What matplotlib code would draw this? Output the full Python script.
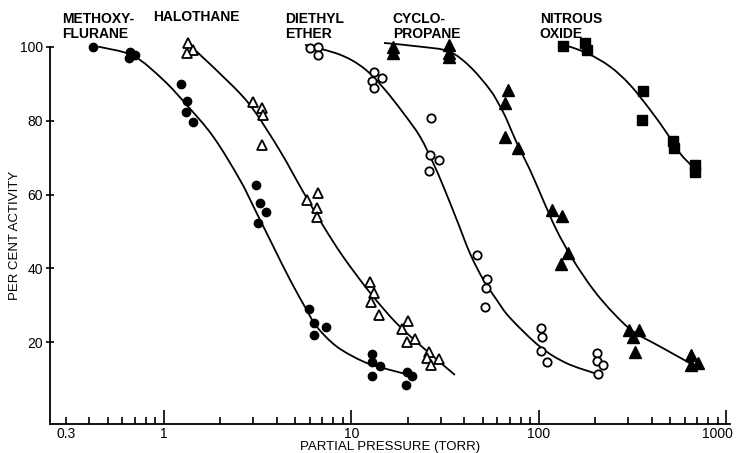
import matplotlib
matplotlib.use('Agg')
import numpy as np
import matplotlib.pyplot as plt
import matplotlib.transforms as mtransforms
from matplotlib.path import Path
from matplotlib.patches import PathPatch
from matplotlib.ticker import FixedLocator, FixedFormatter

plt.rcParams['font.family'] = ['Liberation Sans', 'DejaVu Sans']

# ---------------- data ----------------
methoxy_p = [0.42, 0.66, 0.70, 0.65, 1.23, 1.32, 1.31, 1.43, 3.08, 3.25, 3.49, 3.18,
             5.96, 6.31, 7.31, 6.31, 12.8, 12.8, 14.2, 12.8, 19.7, 20.9, 19.5]
methoxy_a = [100, 98.7, 97.9, 97.1, 90.0, 85.4, 82.5, 79.6, 62.6, 57.7, 55.4, 52.3,
             29.0, 25.1, 24.1, 22.0, 16.7, 14.7, 13.4, 10.8, 12.0, 10.8, 8.4]
methoxy_curve_p = [0.446, 0.686, 0.99, 1.32, 1.83, 2.54, 3.12, 3.83, 4.70, 5.77, 6.52,
                   8.34, 11.6, 15.4, 20.5]
methoxy_curve_a = [100.1, 97.6, 91.1, 84.3, 75.7, 64.0, 55.0, 45.9, 36.9, 28.7, 24.2,
                   18.8, 14.7, 12.7, 11.1]

halo_p = [1.35, 1.43, 1.32, 3.0, 3.32, 3.39, 3.32, 5.77, 6.6, 6.52, 6.52, 12.6, 13.2,
          12.7, 14.1, 19.9, 18.5, 21.8, 19.7, 26.0, 25.2, 29.2, 26.5]
halo_a = [101, 99.3, 98.5, 85.2, 83.4, 81.6, 73.3, 58.6, 60.4, 56.3, 54.0, 36.3, 33.3,
          31.0, 27.4, 25.8, 23.6, 20.9, 19.9, 17.4, 15.6, 15.4, 13.8]
halo_curve_p = [1.49, 2.34, 3.0, 4.15, 5.53, 7.07, 9.04, 12.6, 17.4, 24.2, 35.6]
halo_curve_a = [98.8, 89.3, 83.0, 71.9, 60.7, 51.5, 43.1, 33.3, 25.1, 18.4, 11.1]

ether_p = [6.0, 6.65, 6.65, 13.2, 14.5, 12.9, 13.2, 26.4, 26.3, 29.2, 25.9, 46.9, 52.6,
           52.0, 51.8, 103, 104, 103, 110, 205, 205, 220, 207]
ether_a = [99.7, 100, 97.9, 93.1, 91.6, 90.8, 88.9, 80.7, 70.8, 69.4, 66.3, 43.7, 37.1,
           34.6, 29.5, 23.8, 21.3, 17.7, 14.7, 17.0, 14.9, 13.8, 11.4]
ether_curve_p = [5.65, 8.7, 11.6, 14.8, 18.9, 23.2, 27.3, 30.9, 36.4, 42.8, 50.5, 59.4,
                 70.0, 101, 140, 203]
ether_curve_a = [100.6, 97.9, 94.3, 88.9, 82.1, 75.7, 68.5, 62.2, 53.2, 44.1, 36.9, 31.5,
                 26.6, 18.8, 14.3, 11.4]

cyclo_p = [16.7, 16.7, 33.1, 33.1, 33.1, 68.7, 65.9, 65.9, 77.6, 118, 132, 143, 131,
           303, 343, 318, 325, 644, 644, 707]
cyclo_a = [100.1, 98.4, 100.6, 98.5, 97.4, 88.4, 84.8, 75.7, 72.6, 55.9, 54.1, 44.1, 41.2,
           23.3, 23.3, 21.3, 17.2, 16.5, 13.8, 14.3]
cyclo_curve_p = [14.9, 23.2, 33.1, 42.8, 54.8, 62.0, 67.3, 76.1, 89.5, 105, 124, 152, 195,
                 249, 318, 442, 638]
cyclo_curve_a = [101.1, 100.1, 98.8, 94.7, 88.4, 83.9, 80.3, 74.0, 66.7, 58.6, 50.4, 42.3,
                 34.2, 27.9, 22.9, 18.8, 14.3]

nitrous_p = [135, 177, 181, 357, 353, 516, 525, 679, 683]
nitrous_a = [100.3, 101.2, 99.3, 88.0, 80.3, 74.4, 72.6, 68.1, 66.0]
nitrous_curve_p = [127, 179, 239, 305, 391, 480, 565, 652]
nitrous_curve_a = [101.1, 98.4, 94.7, 89.8, 83.0, 76.7, 71.2, 67.8]

y_ticks = [20, 40, 60, 80, 100]
x_major = [1, 10, 100, 1000]
x_major_labels = ['1', '10', '100', '1000']
x_minor = [0.3, 0.4, 0.5, 0.6, 0.7, 0.8, 0.9,
           2, 3, 4, 5, 6, 7, 8, 9,
           20, 30, 40, 50, 60, 70, 80, 90,
           200, 300, 400, 500, 600, 700, 800, 900]
x_minor_labels = ['0.3'] + [''] * (len(x_minor) - 1)


def smooth_path(px, py):
    """Smooth (Catmull-Rom style) Bezier path through the read curve points,
    built in log10(x) space so that it is smooth on the log axis."""
    lx = np.log10(px)
    y = np.asarray(py, float)
    n = len(lx)
    verts = [(px[0], y[0])]
    codes = [Path.MOVETO]
    for i in range(n - 1):
        i0 = max(i - 1, 0)
        i3 = min(i + 2, n - 1)
        c1x = lx[i] + (lx[i + 1] - lx[i0]) / 6.0
        c1y = y[i] + (y[i + 1] - y[i0]) / 6.0
        c2x = lx[i + 1] - (lx[i3] - lx[i]) / 6.0
        c2y = y[i + 1] - (y[i3] - y[i]) / 6.0
        verts += [(10 ** c1x, c1y), (10 ** c2x, c2y), (px[i + 1], y[i + 1])]
        codes += [Path.CURVE4, Path.CURVE4, Path.CURVE4]
    return Path(verts, codes)


# ---------------- figure ----------------
W, H = 737, 453
fig = plt.figure(figsize=(W / 100, H / 100), dpi=100)
ax = fig.add_axes([50 / W, 1 - 424 / H, 680 / W, 377 / H])
ax.set_xscale('log')
ax.set_xlim(0.2466, 1044)
ax.set_ylim(-2.2, 100)

lw = 1.3
for cp, ca in [(methoxy_curve_p, methoxy_curve_a), (halo_curve_p, halo_curve_a),
               (ether_curve_p, ether_curve_a), (cyclo_curve_p, cyclo_curve_a),
               (nitrous_curve_p, nitrous_curve_a)]:
    patch = PathPatch(smooth_path(cp, ca), facecolor='none', edgecolor='black', lw=lw,
                      clip_on=False, zorder=2)
    ax.add_patch(patch)

ax.plot(methoxy_p, methoxy_a, 'o', ms=6, color='black', clip_on=False, zorder=3)
ax.plot(halo_p, halo_a, '^', ms=7.5, mfc='white', mec='black', mew=1.3, clip_on=False, zorder=3)
ax.plot(ether_p, ether_a, 'o', ms=6, mfc='white', mec='black', mew=1.3, clip_on=False, zorder=3)
ax.plot(cyclo_p, cyclo_a, '^', ms=8, color='black', clip_on=False, zorder=3)
ax.plot(nitrous_p, nitrous_a, 's', ms=7, color='black', clip_on=False, zorder=3)

# spines and ticks
ax.spines['top'].set_visible(False)
ax.spines['right'].set_visible(False)
for s in ['left', 'bottom']:
    ax.spines[s].set_linewidth(1.3)

ax.xaxis.set_major_locator(FixedLocator(x_major))
ax.xaxis.set_major_formatter(FixedFormatter(x_major_labels))
ax.xaxis.set_minor_locator(FixedLocator(x_minor))
ax.xaxis.set_minor_formatter(FixedFormatter(x_minor_labels))
ax.tick_params(axis='x', which='major', direction='in', length=10, width=1.2,
               labelsize=10, pad=2)
ax.tick_params(axis='x', which='minor', direction='in', length=5, width=1.2,
               labelsize=10, pad=2)
ax.set_yticks(y_ticks)
ax.tick_params(axis='y', direction='inout', length=6, width=1.2, labelsize=10, pad=2)

# nudge the "1000" label so it stays inside the figure, as in the original
fig.canvas.draw()
for lab in ax.xaxis.get_majorticklabels():
    if lab.get_text() == '1000':
        lab.set_horizontalalignment('right')
        lab.set_transform(lab.get_transform() +
                          mtransforms.ScaledTranslation(6 / 100, 0, fig.dpi_scale_trans))

ax.set_xlabel('PARTIAL PRESSURE (TORR)', fontsize=9.5, labelpad=0)
ax.set_ylabel('PER CENT ACTIVITY', fontsize=9.5)
ax.yaxis.set_label_coords(-29 / 680, 0.5)

# drug names
name_kw = dict(fontsize=10, fontweight='bold', ha='left', va='center', clip_on=False,
               linespacing=1.1)
ax.text(0.286, 105.6, 'METHOXY-\nFLURANE', **name_kw)
ax.text(0.874, 108.0, 'HALOTHANE', **name_kw)
ax.text(4.42, 105.6, 'DIETHYL\nETHER', **name_kw)
ax.text(16.6, 105.6, 'CYCLO-\nPROPANE', **name_kw)
ax.text(101, 105.6, 'NITROUS\nOXIDE', **name_kw)

fig.savefig('out.png', dpi=100)
